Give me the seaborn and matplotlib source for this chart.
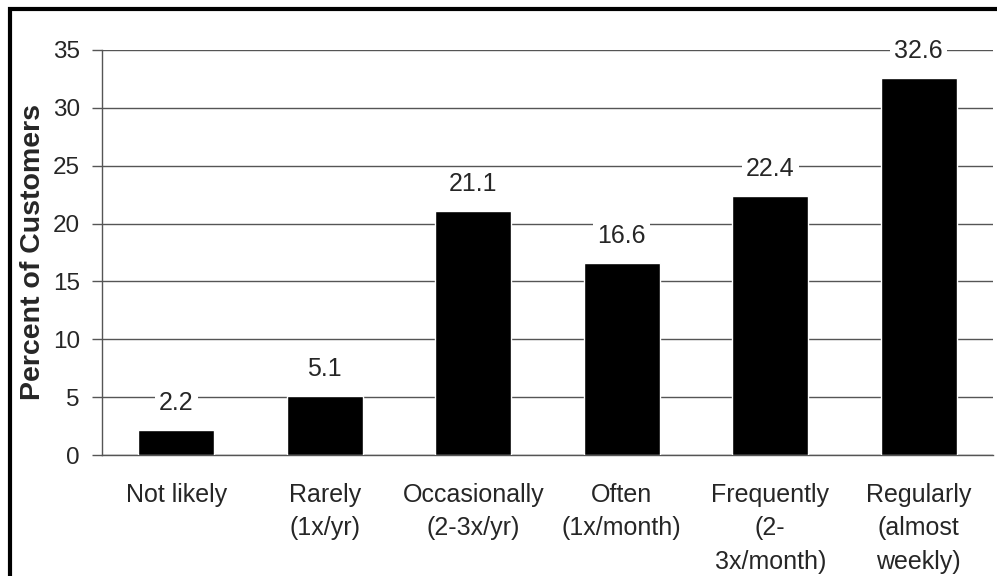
import matplotlib
matplotlib.use("Agg")
import matplotlib.pyplot as plt
import seaborn as sns
import pandas as pd
import numpy as np
from matplotlib.patches import Rectangle

categories = ["Not likely", "Rarely\n(1x/yr)", "Occasionally\n(2-3x/yr)", "Often\n(1x/month)",
              "Frequently\n(2-\n3x/month)", "Regularly\n(almost\nweekly)"]
values = [2.2, 5.1, 21.1, 16.6, 22.4, 32.6]
yticks = [0, 5, 10, 15, 20, 25, 30, 35]

sns.set_theme(style="white")
plt.rcParams['font.family'] = ['Liberation Sans', 'DejaVu Sans']

fig = plt.figure(figsize=(9.97, 5.76), dpi=100)
ax = fig.add_axes([102/997, 1 - 455/576, 891/997, 405/576])

df = pd.DataFrame({"cat": categories, "val": values})
sns.barplot(data=df, x="cat", y="val", color="black", width=0.51, saturation=1, ax=ax, zorder=3)

ax.set_ylim(0, 35)
ax.set_xlim(-0.5, len(categories) - 0.5)
ax.set_yticks(yticks)
ax.set_yticklabels([str(t) for t in yticks], fontsize=17.5)
ax.yaxis.grid(True, color="#555555", linewidth=1)
ax.set_axisbelow(True)

ax.set_xticks(range(len(categories)))
ax.set_xticklabels(categories, fontsize=18, linespacing=1.5, va="top")
ax.set_xticks(np.arange(-0.5, len(categories), 1.0), minor=True)
ax.tick_params(axis="x", which="major", length=0, pad=20)
ax.tick_params(axis="x", which="minor", length=6, width=1, color="#555555", direction="out")
ax.tick_params(axis="y", length=7, width=1, color="#555555", direction="out", pad=9, left=True)

for s in ["top", "right"]:
    ax.spines[s].set_visible(False)
for s in ["left", "bottom"]:
    ax.spines[s].set_color("#555555")
    ax.spines[s].set_linewidth(1)

ax.set_xlabel("")
ax.set_ylabel("Percent of Customers", fontsize=20.5, fontweight="bold", labelpad=5)

for i, v in enumerate(values):
    ax.annotate(f"{v:.1f}", (i, v), xytext=(0, 10.5), textcoords="offset points",
                ha="center", va="bottom", fontsize=18, zorder=4,
                bbox=dict(facecolor="white", edgecolor="none", pad=3))

fig.patches.append(Rectangle((10/997, -0.1), 1.2, 1 - 9/576 + 0.1, transform=fig.transFigure,
                             fill=False, edgecolor="black", linewidth=3, clip_on=False))

fig.savefig("out.png", dpi=100)
